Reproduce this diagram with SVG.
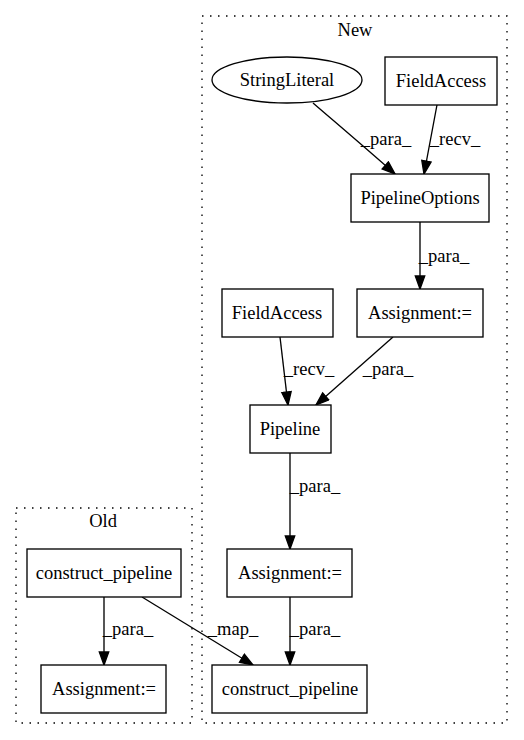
<svg xmlns="http://www.w3.org/2000/svg" width="524" height="740" viewBox="0 0 524 740">
<defs>
<style>
text{font-family:"Liberation Serif","Times New Roman",serif;font-size:18.5px;fill:#000}
.n{text-anchor:middle}
.box{fill:#fff;stroke:#000;stroke-width:1.33}
.cl{fill:none;stroke:#000;stroke-width:1.33;stroke-dasharray:1.5,6.5}
.e{fill:none;stroke:#000;stroke-width:1.33}
</style>
<marker id="ah" markerUnits="userSpaceOnUse" markerWidth="16" markerHeight="12" viewBox="0 0 16 12" refX="14" refY="5.5" orient="auto">
<path d="M1,0.8 L14,5.5 L1,10.2 z" fill="#000" stroke="#000" stroke-width="1.33"/>
</marker>
</defs>
<rect width="524" height="740" fill="#fff"/>
<g id="cluster_new">
<rect class="cl" x="202" y="16" width="305" height="707"/>
<text class="n" x="355" y="36">New</text>
</g>
<g id="cluster_old">
<rect class="cl" x="16" y="508" width="176" height="215"/>
<text class="n" x="103" y="527">Old</text>
</g>
<g id="edges">
<path class="e" d="M313,103 C335,122 368,150 395,174" marker-end="url(#ah)"/>
<text x="386" y="145" class="n">_para_</text>
<path class="e" d="M437,105 L424,174" marker-end="url(#ah)"/>
<text x="455" y="145" class="n">_recv_</text>
<path class="e" d="M420,222 L420,289" marker-end="url(#ah)"/>
<text x="444" y="262" class="n">_para_</text>
<path class="e" d="M280,337 L288,405" marker-end="url(#ah)"/>
<text x="309" y="375" class="n">_recv_</text>
<path class="e" d="M393,337 L316,405" marker-end="url(#ah)"/>
<text x="388" y="375" class="n">_para_</text>
<path class="e" d="M290,453 L290,549" marker-end="url(#ah)"/>
<text x="315" y="492" class="n">_para_</text>
<path class="e" d="M290,597 L290,665" marker-end="url(#ah)"/>
<text x="315" y="635" class="n">_para_</text>
<path class="e" d="M104,597 L104,665" marker-end="url(#ah)"/>
<text x="128" y="635" class="n">_para_</text>
<path class="e" d="M142,597 L253,665" marker-end="url(#ah)"/>
<text x="233" y="635" class="n">_map_</text>
</g>
<g id="StringLiteral">
<ellipse class="box" cx="287" cy="80" rx="75" ry="23"/>
<text class="n" x="287" y="86">StringLiteral</text>
</g>
<g id="FieldAccess1">
<rect class="box" x="385" y="57" width="112" height="48"/>
<text class="n" x="441" y="87">FieldAccess</text>
</g>
<g id="PipelineOptions">
<rect class="box" x="351" y="174" width="138" height="48"/>
<text class="n" x="420" y="204">PipelineOptions</text>
</g>
<g id="Assignment1">
<rect class="box" x="357" y="289" width="126" height="48"/>
<text class="n" x="420" y="319">Assignment:=</text>
</g>
<g id="FieldAccess2">
<rect class="box" x="222" y="289" width="111" height="48"/>
<text class="n" x="277" y="319">FieldAccess</text>
</g>
<g id="Pipeline">
<rect class="box" x="250" y="405" width="81" height="48"/>
<text class="n" x="290" y="435">Pipeline</text>
</g>
<g id="Assignment2">
<rect class="box" x="227" y="549" width="125" height="48"/>
<text class="n" x="290" y="579">Assignment:=</text>
</g>
<g id="construct_pipeline_new">
<rect class="box" x="212" y="665" width="155" height="48"/>
<text class="n" x="290" y="695">construct_pipeline</text>
</g>
<g id="construct_pipeline_old">
<rect class="box" x="27" y="549" width="154" height="48"/>
<text class="n" x="104" y="579">construct_pipeline</text>
</g>
<g id="Assignment_old">
<rect class="box" x="41" y="665" width="125" height="48"/>
<text class="n" x="104" y="695">Assignment:=</text>
</g>
</svg>
